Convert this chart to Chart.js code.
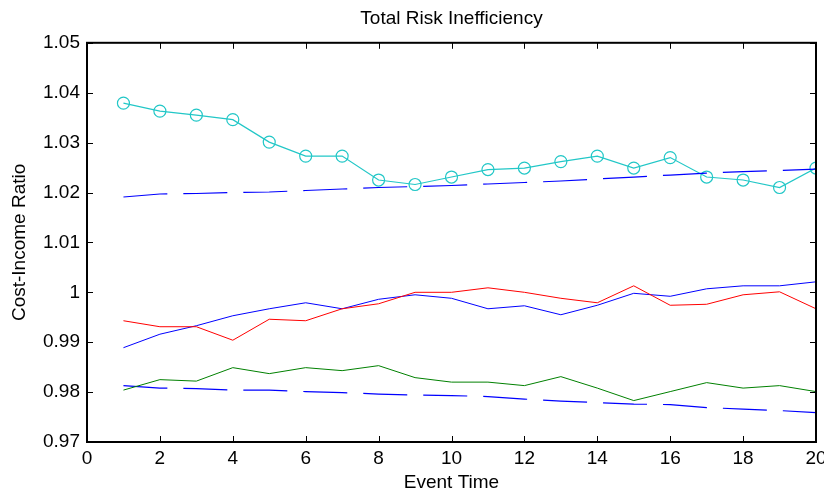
<!DOCTYPE html>
<html>
<head>
<meta charset="utf-8">
<script src="https://cdn.jsdelivr.net/npm/chart.js@4/dist/chart.umd.min.js"></script>
<style>
  html, body { margin: 0; padding: 0; background: #fff; }
  #wrap { width: 824px; height: 499px; }
</style>
</head>
<body>
<div id="wrap"><canvas id="riskChart" width="824" height="499"></canvas></div>
<script>
// Event time 1..20
const eventTime = [1, 2, 3, 4, 5, 6, 7, 8, 9, 10, 11, 12, 13, 14, 15, 16, 17, 18, 19, 20];

// Series
const cyanCircles = [1.0379, 1.0363, 1.0355, 1.0346, 1.0301, 1.0273, 1.0273, 1.0225, 1.0216, 1.0231,
  1.0246, 1.0249, 1.0262, 1.0273, 1.0249, 1.0270, 1.0231, 1.0225, 1.0210, 1.0249];
const upperBand = [1.0191, 1.0197, 1.0198, 1.0200, 1.0201, 1.0204, 1.0207, 1.0210, 1.0212, 1.0214,
  1.0217, 1.0220, 1.0223, 1.0227, 1.0231, 1.0235, 1.0239, 1.0242, 1.0244, 1.0247];
const redLine = [0.9943, 0.9931, 0.9931, 0.9904, 0.9946, 0.9943, 0.9967, 0.9977, 1.0000, 1.0000,
  1.0009, 1.0000, 0.9988, 0.9979, 1.0013, 0.9974, 0.9976, 0.9995, 1.0001, 0.9967];
const blueLine = [0.9889, 0.9916, 0.9933, 0.9953, 0.9967, 0.9979, 0.9967, 0.9986, 0.9995, 0.9988,
  0.9967, 0.9973, 0.9955, 0.9974, 0.9998, 0.9992, 1.0007, 1.0013, 1.0013, 1.0021];
const greenLine = [0.9804, 0.9825, 0.9822, 0.9849, 0.9837, 0.9849, 0.9843, 0.9853, 0.9829, 0.9820,
  0.9820, 0.9813, 0.9831, 0.9808, 0.9783, 0.9801, 0.9819, 0.9808, 0.9813, 0.9801];
const lowerBand = [0.9813, 0.9808, 0.9807, 0.9804, 0.9804, 0.9801, 0.9799, 0.9796, 0.9794, 0.9793,
  0.9791, 0.9786, 0.9782, 0.9779, 0.9776, 0.9775, 0.9769, 0.9766, 0.9763, 0.9759];

// Axis ticks
const xTicks = [0, 2, 4, 6, 8, 10, 12, 14, 16, 18, 20];
const yTicks = [0.97, 0.98, 0.99, 1.00, 1.01, 1.02, 1.03, 1.04, 1.05];

const font = '"Liberation Sans", Arial, sans-serif';
const pts = (arr) => eventTime.map((t, i) => ({ x: t, y: arr[i] }));

// Matlab-style box with inward ticks on all four sides
const boxPlugin = {
  id: 'matlabBox',
  afterDatasetsDraw(chart) {
    const { ctx, chartArea: a, scales } = chart;
    const len = 6;
    ctx.save();
    ctx.strokeStyle = '#000';
    ctx.lineWidth = 1;
    xTicks.forEach((v) => {
      const px = Math.round(scales.x.getPixelForValue(v)) + 0.5;
      ctx.beginPath();
      ctx.moveTo(px, a.bottom); ctx.lineTo(px, a.bottom - len);
      ctx.moveTo(px, a.top); ctx.lineTo(px, a.top + len);
      ctx.stroke();
    });
    yTicks.forEach((v) => {
      const py = Math.round(scales.y.getPixelForValue(v)) + 0.5;
      ctx.beginPath();
      ctx.moveTo(a.left, py); ctx.lineTo(a.left + len, py);
      ctx.moveTo(a.right, py); ctx.lineTo(a.right - len, py);
      ctx.stroke();
    });
    ctx.lineWidth = 2;
    ctx.strokeRect(a.left, a.top, a.right - a.left, a.bottom - a.top);
    ctx.restore();
  },
};

new Chart(document.getElementById('riskChart'), {
  type: 'line',
  data: {
    datasets: [
      {
        data: pts(upperBand),
        borderColor: '#0000FF',
        borderWidth: 1.2,
        borderDash: [44, 16],
        pointRadius: 0,
      },
      {
        data: pts(cyanCircles),
        borderColor: '#22C7C7',
        borderWidth: 1.2,
        pointRadius: 6,
        pointBorderWidth: 1.2,
        pointBackgroundColor: 'rgba(0,0,0,0)',
        pointBorderColor: '#22C7C7',
      },
      {
        data: pts(redLine),
        borderColor: '#FF0000',
        borderWidth: 1,
        pointRadius: 0,
      },
      {
        data: pts(blueLine),
        borderColor: '#0000FF',
        borderWidth: 1,
        pointRadius: 0,
      },
      {
        data: pts(greenLine),
        borderColor: '#008000',
        borderWidth: 1,
        pointRadius: 0,
      },
      {
        data: pts(lowerBand),
        borderColor: '#0000FF',
        borderWidth: 1.2,
        borderDash: [44, 16],
        pointRadius: 0,
      },
    ],
  },
  options: {
    responsive: false,
    animation: false,
    layout: { padding: { left: 8, right: 8, top: 0, bottom: 0 } },
    plugins: {
      legend: { display: false },
      tooltip: { enabled: false },
      title: {
        display: true,
        fullSize: false,
        text: 'Total Risk Inefficiency',
        color: '#000',
        font: { family: font, size: 19, weight: 'normal' },
        padding: { top: 7, bottom: 13 },
      },
    },
    scales: {
      x: {
        type: 'linear',
        min: 0,
        max: 20,
        afterBuildTicks: (scale) => { scale.ticks = xTicks.map((v) => ({ value: v })); },
        afterFit: (scale) => { scale.paddingLeft = 0; scale.paddingRight = 0; scale.height = 57; },
        grid: { display: false, drawTicks: false },
        border: { display: false },
        ticks: { color: '#000', font: { family: font, size: 19 }, padding: 5, maxRotation: 0 },
        title: {
          display: true,
          text: 'Event Time',
          color: '#000',
          font: { family: font, size: 19 },
          padding: { top: 0, bottom: 5 },
        },
      },
      y: {
        min: 0.97,
        max: 1.05,
        afterBuildTicks: (scale) => { scale.ticks = yTicks.map((v) => ({ value: v })); },
        afterFit: (scale) => { scale.width = 79; },
        grid: { display: false, drawTicks: false },
        border: { display: false },
        ticks: {
          color: '#000',
          font: { family: font, size: 19 },
          padding: 7,
          callback: (v) => (Math.abs(v - 1) < 1e-9 ? '1' : Number(v.toFixed(2)).toString()),
        },
        title: {
          display: true,
          text: 'Cost-Income Ratio',
          color: '#000',
          font: { family: font, size: 19 },
          padding: { top: 0, bottom: 0 },
        },
      },
    },
  },
  plugins: [boxPlugin],
});
</script>
</body>
</html>
